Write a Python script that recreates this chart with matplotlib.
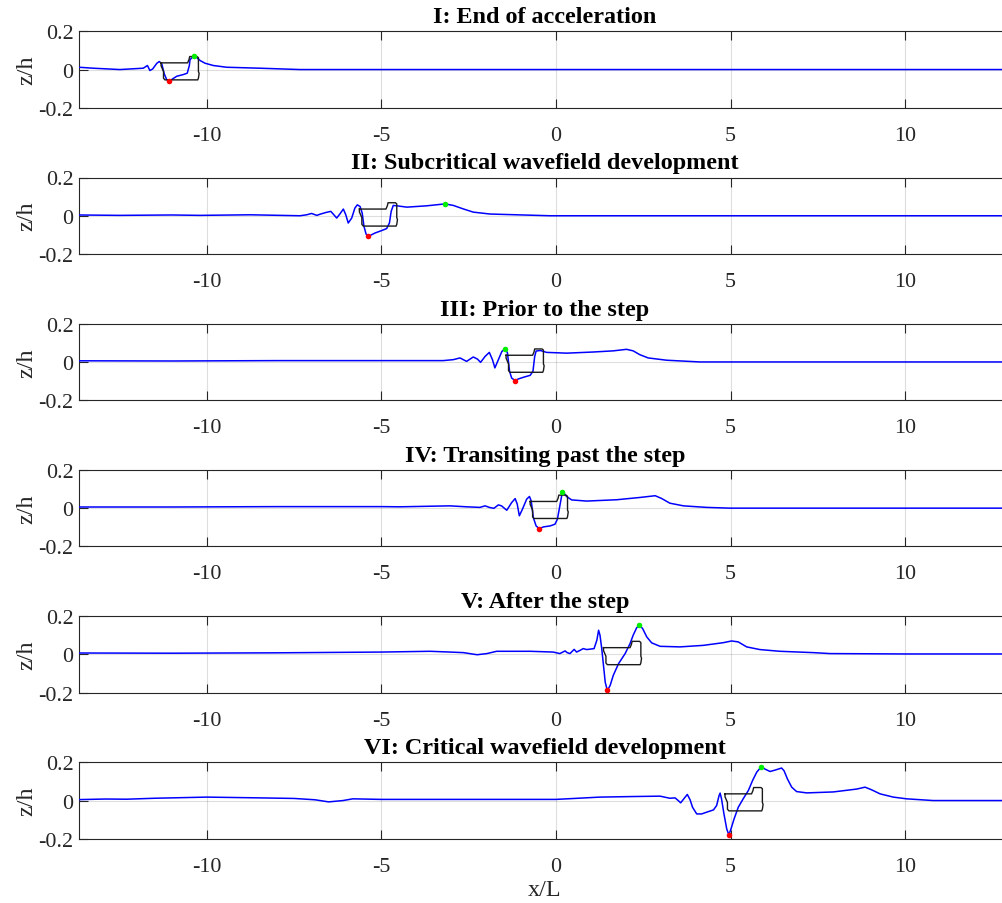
import matplotlib
matplotlib.use("Agg")
import matplotlib.pyplot as plt
import numpy as np

plt.rcParams['font.family'] = ['Liberation Serif', 'DejaVu Serif']
plt.rcParams['axes.unicode_minus'] = False

titles = ["I: End of acceleration",
          "II: Subcritical wavefield development",
          "III: Prior to the step",
          "IV: Transiting past the step",
          "V: After the step",
          "VI: Critical wavefield development"]

x1 = [-13.66, -13.25, -12.49, -11.82, -11.70, -11.63, -11.55, -11.43, -11.36, -11.29, -11.22, -11.15, -11.07,
      -10.98, -10.86, -10.67, -10.56, -10.50, -10.48, -10.38, -10.29, -10.19, -10.05, -9.81, -9.43, -8.48,
      -7.33, -5.0, 0.0, 5.0, 10.0, 13.1]
z1 = [0.012, 0.007, 0.0, 0.007, 0.021, -0.005, 0.003, 0.033, 0.042, 0.030, -0.022, -0.052, -0.062,
      -0.049, -0.035, -0.026, -0.019, 0.021, 0.052, 0.070, 0.063, 0.047, 0.033, 0.021, 0.012, 0.007,
      0.0, 0.0, 0.0, 0.0, 0.0, 0.0]

x2 = [-13.66, -12.5, -11.0, -10.19, -8.76, -7.33, -7.14, -7.0, -6.85, -6.74, -6.59, -6.45, -6.38, -6.28, -6.19,
      -6.09, -6.02, -5.95, -5.85, -5.76, -5.69, -5.61, -5.55, -5.50, -5.44, -5.38, -5.31, -5.18, -5.0, -4.85,
      -4.77, -4.72, -4.66, -4.56, -4.27, -3.70, -3.18, -2.94, -2.66, -2.37, -1.89, -1.13, -0.17, 1.0, 5.0,
      10.0, 13.1]
z2 = [0.004, 0.002, 0.004, 0.002, 0.005, 0.0, 0.005, 0.012, 0.002, 0.009, 0.017, 0.023, 0.009, -0.012, 0.009,
      0.035, 0.005, -0.038, -0.012, 0.040, 0.057, 0.048, 0.014, -0.055, -0.095, -0.108, -0.102, -0.090, -0.078,
      -0.067, -0.038, 0.023, 0.054, 0.052, 0.045, 0.052, 0.062, 0.054, 0.036, 0.019, 0.009, 0.005, 0.0, 0.0,
      0.0, 0.0, 0.0]

x3 = [-13.66, -11.0, -8.0, -5.0, -4.47, -3.23, -2.94, -2.75, -2.56, -2.37, -2.25, -2.16, -2.03, -1.91, -1.82,
      -1.75, -1.65, -1.55, -1.45, -1.39, -1.33, -1.27, -1.17, -1.08, -0.93, -0.74, -0.66, -0.61, -0.57, -0.45,
      -0.27, 0.31, 1.07, 1.64, 2.02, 2.21, 2.40, 2.64, 3.17, 4.12, 5.0, 10.0, 13.1]
z3 = [0.006, 0.005, 0.007, 0.007, 0.007, 0.007, 0.012, 0.021, 0.003, 0.026, 0.015, -0.002, 0.029, 0.050, 0.012,
      -0.031, 0.012, 0.055, 0.070, 0.047, -0.049, -0.084, -0.098, -0.089, -0.080, -0.070, -0.049, 0.029, 0.057,
      0.060, 0.050, 0.046, 0.052, 0.058, 0.066, 0.058, 0.038, 0.021, 0.009, 0.0, 0.0, 0.0, 0.0]

x4 = [-13.66, -11.0, -8.0, -5.0, -4.47, -3.04, -2.56, -2.18, -2.03, -1.91, -1.78, -1.65, -1.56, -1.41, -1.27,
      -1.17, -1.11, -1.05, -0.96, -0.84, -0.76, -0.71, -0.65, -0.57, -0.48, -0.36, -0.17, -0.03, 0.04, 0.11,
      0.18, 0.23, 0.30, 0.45, 0.88, 1.74, 2.41, 2.84, 3.02, 3.26, 3.65, 4.31, 4.98, 10.0, 13.1]
z4 = [0.006, 0.006, 0.008, 0.008, 0.007, 0.012, 0.007, 0.004, 0.012, 0.004, -0.001, 0.017, 0.012, -0.011, 0.029,
      0.050, 0.021, -0.040, -0.005, 0.047, 0.061, 0.038, -0.049, -0.093, -0.107, -0.098, -0.093, -0.084, -0.058,
      0.012, 0.082, 0.079, 0.061, 0.043, 0.037, 0.044, 0.056, 0.065, 0.051, 0.026, 0.012, 0.004, 0.0, 0.0, 0.0]

x5 = [-13.66, -11.0, -8.0, -5.0, -3.61, -3.04, -2.65, -2.26, -1.98, -1.70, -0.74, -0.08, 0.11, 0.26, 0.32, 0.40,
      0.52, 0.59, 0.69, 0.78, 0.88, 1.09, 1.17, 1.22, 1.26, 1.31, 1.36, 1.41, 1.47, 1.55, 1.64, 1.79, 1.98, 2.12,
      2.21, 2.31, 2.39, 2.48, 2.60, 2.74, 2.98, 3.55, 4.22, 4.79, 5.03, 5.22, 5.46, 5.84, 6.41, 7.37, 7.85,
      10.0, 13.1]
z5 = [0.007, 0.006, 0.008, 0.012, 0.016, 0.012, 0.009, -0.002, 0.004, 0.016, 0.016, 0.012, 0.004, 0.018, 0.009,
      0.004, 0.026, 0.012, 0.021, 0.030, 0.025, 0.030, 0.074, 0.126, 0.100, 0.030, -0.058, -0.146, -0.189,
      -0.163, -0.110, -0.049, 0.004, 0.056, 0.100, 0.139, 0.153, 0.135, 0.091, 0.060, 0.042, 0.039, 0.047,
      0.061, 0.070, 0.065, 0.039, 0.025, 0.016, 0.009, 0.004, 0.002, 0.002]

x6 = [-13.66, -12.9, -12.3, -11.5, -10.0, -8.5, -7.5, -6.9, -6.51, -6.1, -5.82, -5.0, -2.5, 0.0, 1.26, 2.21,
      2.98, 3.26, 3.41, 3.50, 3.57, 3.66, 3.76, 3.84, 3.91, 4.03, 4.17, 4.36, 4.51, 4.60, 4.67, 4.70, 4.74,
      4.81, 4.89, 4.95, 5.01, 5.10, 5.22, 5.36, 5.51, 5.63, 5.75, 5.88, 5.99, 6.13, 6.27, 6.46, 6.53, 6.63,
      6.75, 6.89, 7.18, 7.94, 8.61, 8.85, 9.04, 9.28, 9.66, 10.04, 10.8, 13.1]
z6 = [0.005, 0.008, 0.007, 0.012, 0.018, 0.014, 0.011, 0.004, -0.007, 0.0, 0.009, 0.006, 0.006, 0.006, 0.018,
      0.021, 0.023, 0.012, 0.014, 0.0, -0.012, 0.009, 0.032, 0.004, -0.035, -0.070, -0.070, -0.058, -0.049,
      -0.026, 0.026, 0.039, 0.009, -0.070, -0.149, -0.179, -0.149, -0.096, -0.035, 0.009, 0.053, 0.105, 0.149,
      0.177, 0.164, 0.152, 0.159, 0.170, 0.156, 0.112, 0.070, 0.047, 0.040, 0.045, 0.060, 0.070, 0.056, 0.035,
      0.018, 0.009, 0.0, 0.0]

series_x = [x1, x2, x3, x4, x5, x6]
series_z = [z1, z2, z3, z4, z5, z6]

# hull outline (relative to the stern end) and stern positions per snapshot
hull_dx = [0.0, 0.76, 0.80, 0.82, 1.03, 1.07, 1.07, 1.09, 1.07, 1.05, 0.11, 0.07, 0.07, 0.0, 0.0]
hull_z = [0.035, 0.035, 0.052, 0.068, 0.068, 0.062, -0.010, -0.020, -0.045, -0.054, -0.054, -0.045, -0.010, 0.020, 0.035]
hull_x0 = [-11.31, -5.63, -1.43, -0.74, 1.36, 4.84]

xticks = [-10, -5, 0, 5, 10]
yticks = [-0.2, 0, 0.2]
xtick_labels = ["-10", "-5", "0", "5", "10"]
ytick_labels = ["-0.2", "0", "0.2"]

W, H = 1003, 904
fig = plt.figure(figsize=(W / 100, H / 100), dpi=100)

axc = '#262626'
left_px, width_px = 79, 932
top0, step, h_px = 32.3, 146.2, 76.5

for i in range(6):
    top = top0 + i * step
    ax = fig.add_axes([left_px / W, 1 - (top + h_px) / H, width_px / W, h_px / H])
    xs = np.array(series_x[i]); zs = np.array(series_z[i])
    ax.plot(xs, zs, color='#0000ff', lw=1.1, zorder=3)
    hx = np.array(hull_dx) + hull_x0[i]
    ax.plot(hx, hull_z, color='#1a1a1a', lw=1.0, zorder=4)
    imin = int(np.argmin(zs)); imax = int(np.argmax(zs))
    ax.plot(xs[imin], zs[imin], 'o', color='red', ms=4, mec='none', zorder=5)
    ax.plot(xs[imax], zs[imax], 'o', color='#00ee00', ms=4, mec='none', zorder=5)
    ax.set_xlim(-13.66, 13.03)
    ax.set_ylim(-0.2, 0.2)
    ax.set_xticks(xticks)
    ax.set_xticklabels(xtick_labels)
    ax.set_yticks(yticks)
    ax.set_yticklabels(ytick_labels)
    ax.grid(True, color=axc, alpha=0.15, lw=0.8)
    ax.set_axisbelow(True)
    ax.tick_params(direction='in', top=True, right=True, length=6.5, width=0.8, color=axc,
                   labelcolor=axc, labelsize=15.8)
    ax.tick_params(axis='x', pad=13)
    ax.tick_params(axis='y', pad=4)
    for s in ax.spines.values():
        s.set_color(axc)
        s.set_linewidth(0.8)
    ax.set_ylabel("z/h", fontsize=17.4, color=axc, labelpad=1)
    ax.set_title(titles[i], fontsize=17.4, fontweight='bold', color='black', pad=6.5)
    if i == 5:
        ax.set_xlabel("x/L", fontsize=17.4, color=axc, labelpad=2)

fig.savefig("out.png", dpi=100)
